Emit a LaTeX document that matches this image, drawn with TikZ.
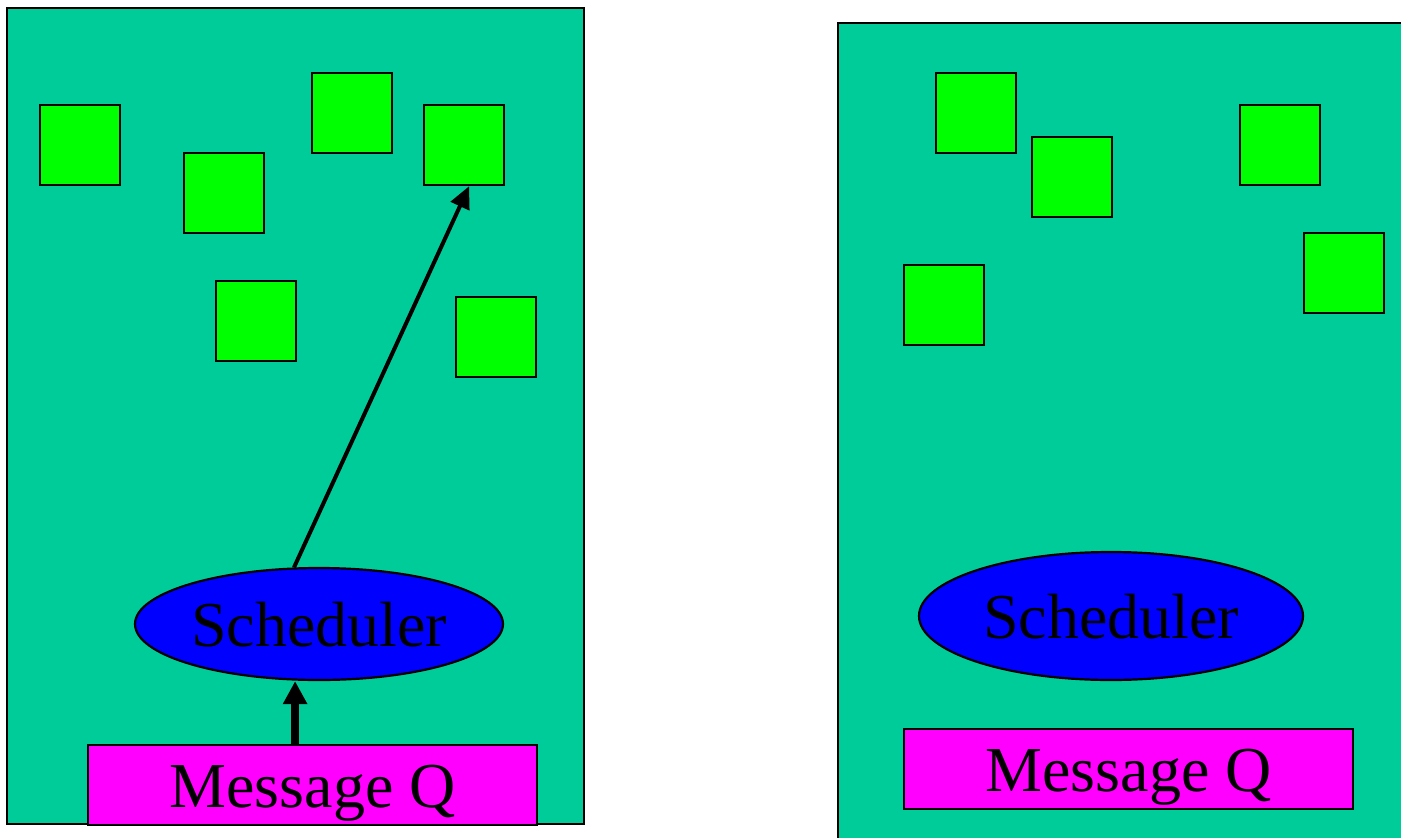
\documentclass[tikz,border=0pt]{standalone}
\usepackage{fontspec}
\setmainfont{Liberation Serif}
\usetikzlibrary{arrows.meta,shapes.geometric}
\definecolor{panelteal}{RGB}{0,204,153}
\definecolor{tasklime}{RGB}{0,255,0}
\definecolor{schedblue}{RGB}{0,0,255}
\definecolor{queuemag}{RGB}{255,0,255}
\tikzset{
  panel/.style={draw=black, line width=2.6pt, fill=panelteal},
  task/.style={draw=black, line width=2.2pt, fill=tasklime, rectangle,
    minimum width=80pt, minimum height=80pt, inner sep=0pt, anchor=north west},
  label text/.style={font=\fontsize{64}{70}\selectfont,
    text height=45pt, text depth=0pt},
  sched/.style={draw=black, line width=2.2pt, fill=schedblue, ellipse,
    minimum width=368pt, minimum height=112pt, inner sep=0pt, label text},
  queue/.style={draw=black, line width=2.2pt, fill=queuemag, rectangle,
    minimum width=449pt, minimum height=80pt, inner sep=0pt, anchor=north west,
    label text},
  feed/.style={line width=8pt, -{Triangle[length=23pt,width=23pt]}},
  dispatch/.style={line width=4pt, -{Triangle[length=22pt,width=20pt]}},
}
\begin{document}
\begin{tikzpicture}[x=1pt,y=-1pt]
\clip (0,0) rectangle (1401,838);
\fill[white] (0,0) rectangle (1401,838);
% left node
\draw[panel] (7,8) rectangle (584,824);
\node[task] (l1) at (39,104) {};
\node[task] (l2) at (183,152) {};
\node[task] (l3) at (311,72) {};
\node[task] (l4) at (423,104) {};
\node[task] (l5) at (215,280) {};
\node[task] (l6) at (455,296) {};
\node[sched] (schL) at (319,624) {Scheduler};
\node[queue] (mqL) at (87,744) {Message Q};
\coordinate (feedL) at ([xshift=-17.5pt]mqL.north);
\draw[feed] (feedL) -- (feedL |- schL.south);
\draw[dispatch] ([xshift=-25pt,yshift=-0.5pt]schL.north) -- ([xshift=5pt]l4.south);
% right node
\draw[panel] (838,23) rectangle (1420,860);
\node[task] (r1) at (935,72) {};
\node[task] (r2) at (1031,136) {};
\node[task] (r3) at (1239,104) {};
\node[task] (r4) at (1303,232) {};
\node[task] (r5) at (903,264) {};
\node[sched, minimum width=384pt, minimum height=128pt] (schR) at (1111,616) {Scheduler};
\node[queue] (mqR) at (903,728) {Message Q};
\end{tikzpicture}
\end{document}
